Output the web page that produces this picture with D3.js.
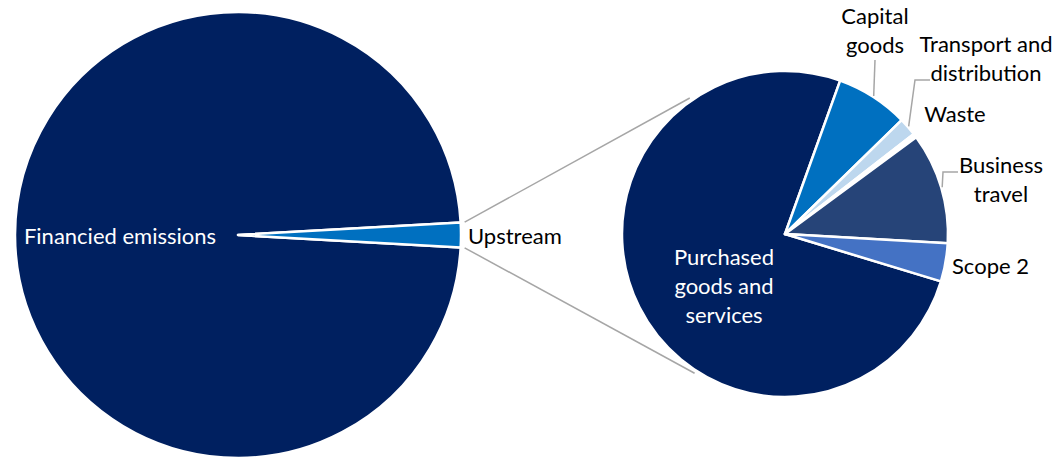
<!DOCTYPE html>
<html>
<head>
<meta charset="utf-8">
<script src="https://cdn.jsdelivr.net/npm/d3@7"></script>
<style>
  body { margin: 0; background: #fff; }
  text { font-family: Lato, "Noto Sans", sans-serif; }
</style>
</head>
<body>
<svg></svg>
<script>
// main pie
const MAIN_CATEGORIES = ["Financied emissions", "Upstream"];
const MAIN_VALUES = [98.2, 1.8];
const MAIN_COLORS = ["#002060", "#0070C0"];

// upstream breakdown
const SUB_CATEGORIES = ["Purchased goods and services", "Capital goods", "Transport and distribution",
  "Waste", "Business travel", "Scope 2"];
const SUB_VALUES = [75.8, 7.2, 1.8, 0.4, 11.0, 3.8];
const SUB_COLORS = ["#002060", "#0070C0", "#BDD7EE", "#FFFFFF", "#264478", "#4472C4"];

const WIDTH = 1056;
const HEIGHT = 458;
const FONT_SIZE = 22;
const deg = Math.PI / 180;

const svg = d3.select("svg")
    .attr("width", WIDTH)
    .attr("height", HEIGHT);

const main = { cx: 238, cy: 235, r: 223 };
const sub = { cx: 785, cy: 234, r: 163 };

// point on a circle, angle measured clockwise from 12 o'clock (d3 convention)
function polar(c, r, a) {
    return [c.cx + r * Math.sin(a), c.cy - r * Math.cos(a)];
}

// main pie: the upstream slice sits centred at 3 o'clock
const mainTotal = d3.sum(MAIN_VALUES);
const upSpan = 2 * Math.PI * MAIN_VALUES[1] / mainTotal;
const mainStart = Math.PI / 2 + upSpan / 2;

const mainPie = d3.pie().sort(null)
    .startAngle(mainStart)
    .endAngle(mainStart + 2 * Math.PI);
const mainArcs = mainPie(MAIN_VALUES);
const mainArc = d3.arc().innerRadius(0).outerRadius(main.r);

svg.append("g")
    .attr("transform", `translate(${main.cx},${main.cy})`)
    .selectAll("path")
    .data(mainArcs)
    .enter()
    .append("path")
    .attr("d", mainArc)
    .attr("fill", (d, i) => MAIN_COLORS[i])
    .attr("stroke", "#fff")
    .attr("stroke-width", 2.5)
    .attr("stroke-linejoin", "round");

// second pie
const subPie = d3.pie().sort(null)
    .startAngle(106.9 * deg)
    .endAngle(106.9 * deg + 2 * Math.PI);
const subArcs = subPie(SUB_VALUES);
const subArc = d3.arc().innerRadius(0).outerRadius(sub.r);

svg.append("g")
    .attr("transform", `translate(${sub.cx},${sub.cy})`)
    .selectAll("path")
    .data(subArcs)
    .enter()
    .append("path")
    .attr("d", subArc)
    .attr("fill", (d, i) => SUB_COLORS[i])
    .attr("stroke", "#fff")
    .attr("stroke-width", 2.5)
    .attr("stroke-linejoin", "round");

// connector lines between the pies
const up = mainArcs[1];
const connectors = [
    [polar(main, main.r + 4, up.startAngle - 2 * Math.PI), polar(sub, sub.r + 3, -35 * deg)],
    [polar(main, main.r + 4, up.endAngle - 2 * Math.PI), polar(sub, sub.r + 3, 213 * deg)]
];
svg.selectAll(".connector")
    .data(connectors)
    .enter()
    .append("line")
    .classed("connector", true)
    .attr("x1", d => d[0][0]).attr("y1", d => d[0][1])
    .attr("x2", d => d[1][0]).attr("y2", d => d[1][1])
    .attr("stroke", "#A6A6A6")
    .attr("stroke-width", 1.5);

// label layout: text lines, centre x, first baseline, colour, leader elbow points
const LABELS = [
    { pie: "main", i: 0, lines: ["Financied emissions"], x: 120, y: 244, fill: "#fff" },
    { pie: "main", i: 1, lines: ["Upstream"], x: 468, y: 244, anchor: "start" },
    { pie: "sub", i: 0, lines: ["Purchased", "goods and", "services"], x: 724, y: 265, fill: "#fff" },
    { pie: "sub", i: 1, lines: ["Capital", "goods"], x: 875, y: 24, leader: [[875, 60]] },
    { pie: "sub", i: 2, lines: ["Transport and", "distribution"], x: 986, y: 52, leader: [[930, 80], [915, 80]] },
    { pie: "sub", i: 3, lines: ["Waste"], x: 955, y: 122 },
    { pie: "sub", i: 4, lines: ["Business", "travel"], x: 1001, y: 173, leader: [[958, 172], [943, 172]] },
    { pie: "sub", i: 5, lines: ["Scope 2"], x: 952, y: 274, anchor: "start" }
];
const LINE_HEIGHT = 29;

LABELS.forEach(l => {
    if (l.leader) {
        const a = subArcs[l.i];
        const mid = (a.startAngle + a.endAngle) / 2;
        const pts = l.leader.concat([polar(sub, sub.r + 1, mid)]);
        svg.append("path")
            .attr("d", d3.line()(pts))
            .attr("fill", "none")
            .attr("stroke", "#A6A6A6")
            .attr("stroke-width", 1.5);
    }
    const t = svg.append("text")
        .attr("x", l.x)
        .attr("y", l.y)
        .attr("text-anchor", l.anchor || "middle")
        .attr("font-size", FONT_SIZE)
        .attr("fill", l.fill || "#000");
    l.lines.forEach((s, k) => {
        t.append("tspan")
            .attr("x", l.x)
            .attr("y", l.y + k * LINE_HEIGHT)
            .text(s);
    });
});
</script>
</body>
</html>
